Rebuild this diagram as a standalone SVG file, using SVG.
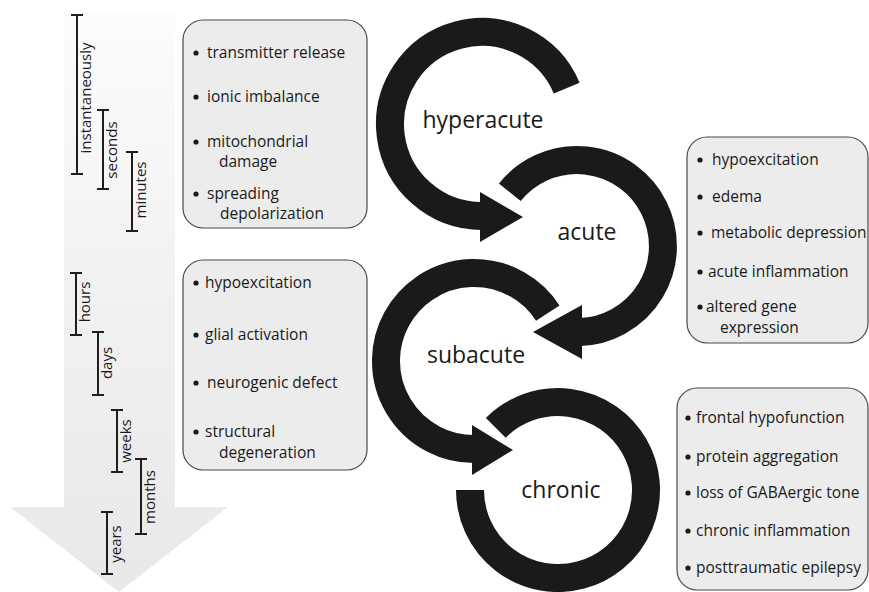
<svg xmlns="http://www.w3.org/2000/svg" width="869" height="592" viewBox="0 0 869 592">
<style>
.box{fill:#ececec;stroke:#4a4a4a;stroke-width:1.2}
.t{font-family:"Open Sans","Liberation Sans",sans-serif;font-size:15.5px;fill:#1a1a1a}
.tl{font-family:"Open Sans","Liberation Sans",sans-serif;font-size:15px;fill:#1a1a1a;text-anchor:middle}
.big{font-family:"Open Sans","Liberation Sans",sans-serif;font-size:23px;fill:#1a1a1a;text-anchor:middle}
.bar{fill:none;stroke:#1e1e1e;stroke-width:2}
.ring{fill:none;stroke:#1a1a1a;stroke-width:28}
.head{fill:#1a1a1a}
.dot{fill:#1a1a1a}
</style>
<defs>
<linearGradient id="g" x1="0" y1="0" x2="0" y2="1">
<stop offset="0" stop-color="#fcfcfc"/>
<stop offset="0.5" stop-color="#f1f1f1"/>
<stop offset="1" stop-color="#e8e8e8"/>
</linearGradient>
</defs>
<g id="time-arrow">
<polygon points="64,12 175,12 175,507 228,507 119,592 10,507 64,507" fill="url(#g)"/>
</g>
<g id="timeline">
<g id="t-instantaneously"><path class="bar" d="M71,15H83M77,15V174M71,174H83"/><text class="tl" x="91" y="98" transform="rotate(-90 91 98)">instantaneously</text></g>
<g id="t-seconds"><path class="bar" d="M97,110H109M103,110V189M97,189H109"/><text class="tl" x="117" y="150" transform="rotate(-90 117 150)">seconds</text></g>
<g id="t-minutes"><path class="bar" d="M126,152H138M132,152V231M126,231H138"/><text class="tl" x="146" y="190" transform="rotate(-90 146 190)">minutes</text></g>
<g id="t-hours"><path class="bar" d="M70,273H82M76,273V335M70,335H82"/><text class="tl" x="90" y="302" transform="rotate(-90 90 302)">hours</text></g>
<g id="t-days"><path class="bar" d="M92,332H104M98,332V395M92,395H104"/><text class="tl" x="112" y="363" transform="rotate(-90 112 363)">days</text></g>
<g id="t-weeks"><path class="bar" d="M111,410H123M117,410V472M111,472H123"/><text class="tl" x="131" y="441" transform="rotate(-90 131 441)">weeks</text></g>
<g id="t-months"><path class="bar" d="M135,459H147M141,459V534M135,534H147"/><text class="tl" x="155" y="497" transform="rotate(-90 155 497)">months</text></g>
<g id="t-years"><path class="bar" d="M101,512H113M107,512V574M101,574H113"/><text class="tl" x="121" y="544" transform="rotate(-90 121 544)">years</text></g>
</g>
<g id="connectors">
<g id="arrow-hyperacute"><path class="ring" d="M566.7,88.1A92,92 0 1 0 482,216"/><polygon class="head" points="480,192 523,217 480,242"/></g>
<g id="arrow-acute"><path class="ring" d="M509.8,192.3A86,86 0 1 1 580,332"/><polygon class="head" points="582,305 533,332 582,359"/></g>
<g id="arrow-subacute"><path class="ring" d="M547.8,313.1A88,88 0 1 0 474,449"/><polygon class="head" points="472,425 513,450 472,475"/></g>
<g id="arrow-chronic"><path class="ring" d="M495.8,427.8A88,88 0 1 1 470,490"/></g>
</g>
<g id="stage-hyperacute"><text class="big" x="483" y="128">hyperacute</text></g>
<g id="stage-acute"><text class="big" x="587" y="240">acute</text></g>
<g id="stage-subacute"><text class="big" x="476" y="363">subacute</text></g>
<g id="stage-chronic"><text class="big" x="561" y="498">chronic</text></g>
<g id="box-hyperacute">
<rect class="box" x="183" y="20" width="184" height="208" rx="20"/>
<circle class="dot" cx="196" cy="53" r="2.6"/><text class="t" x="207" y="58">transmitter release</text>
<circle class="dot" cx="196" cy="97" r="2.6"/><text class="t" x="207" y="102">ionic imbalance</text>
<circle class="dot" cx="196" cy="142" r="2.6"/><text class="t" x="207" y="147">mitochondrial</text>
<text class="t" x="219" y="167">damage</text>
<circle class="dot" cx="196" cy="194" r="2.6"/><text class="t" x="207" y="199">spreading</text>
<text class="t" x="220" y="219">depolarization</text>
</g>
<g id="box-subacute">
<rect class="box" x="183" y="260" width="184" height="210" rx="20"/>
<circle class="dot" cx="196" cy="283" r="2.6"/><text class="t" x="205" y="288">hypoexcitation</text>
<circle class="dot" cx="196" cy="335" r="2.6"/><text class="t" x="205" y="340">glial activation</text>
<circle class="dot" cx="196" cy="383" r="2.6"/><text class="t" x="207" y="388">neurogenic defect</text>
<circle class="dot" cx="196" cy="432" r="2.6"/><text class="t" x="205" y="437">structural</text>
<text class="t" x="219" y="458">degeneration</text>
</g>
<g id="box-acute">
<rect class="box" x="687" y="137" width="181" height="206" rx="20"/>
<circle class="dot" cx="700" cy="160" r="2.6"/><text class="t" x="712" y="165">hypoexcitation</text>
<circle class="dot" cx="700" cy="197" r="2.6"/><text class="t" x="712" y="202">edema</text>
<circle class="dot" cx="700" cy="233" r="2.6"/><text class="t" x="711" y="238">metabolic depression</text>
<circle class="dot" cx="700" cy="272" r="2.6"/><text class="t" x="708" y="277">acute inflammation</text>
<circle class="dot" cx="700" cy="307" r="2.6"/><text class="t" x="706" y="312">altered gene</text>
<text class="t" x="720" y="333">expression</text>
</g>
<g id="box-chronic">
<rect class="box" x="677" y="388" width="191" height="202" rx="20"/>
<circle class="dot" cx="688" cy="418" r="2.6"/><text class="t" x="696" y="423">frontal hypofunction</text>
<circle class="dot" cx="688" cy="457" r="2.6"/><text class="t" x="696" y="462">protein aggregation</text>
<circle class="dot" cx="688" cy="493" r="2.6"/><text class="t" x="696" y="498">loss of GABAergic tone</text>
<circle class="dot" cx="688" cy="531" r="2.6"/><text class="t" x="696" y="536">chronic inflammation</text>
<circle class="dot" cx="688" cy="568" r="2.6"/><text class="t" x="696" y="573">posttraumatic epilepsy</text>
</g>
</svg>
